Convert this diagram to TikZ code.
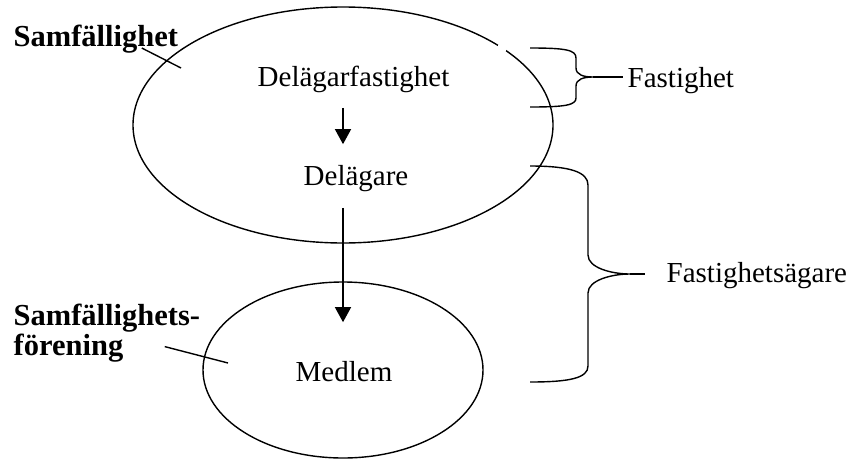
\documentclass[tikz,border=0pt]{standalone}
\usepackage{fontspec}
\setmainfont{Liberation Serif}
\usetikzlibrary{arrows.meta}

\tikzset{
  txt/.style={inner sep=0pt, font=\fontsize{29}{30}\selectfont},
  lbl/.style={inner sep=0pt, font=\fontsize{30.5}{30}\selectfont\bfseries},
  arr/.style={-{Triangle[width=16pt,length=15pt]}},
}

\begin{document}
\begin{tikzpicture}[x=1pt,y=-1pt,line width=1.4pt]
\useasboundingbox (0,0) rectangle (851,461);
% the two ellipses
\draw (343,125) ellipse [x radius=210, y radius=118];
\draw (343,370) ellipse [x radius=140, y radius=88];
\fill[white] (502,48) circle (5);
% texts
\node[txt, anchor=base west] (dfast) at (257,86) {Delägarfastighet};
\node[txt, anchor=base west] (dag) at (303,185) {Delägare};
\node[txt, anchor=base west] (medlem) at (295,381) {Medlem};
\node[txt, anchor=base west] (fast) at (627,87) {Fastighet};
\node[txt, anchor=base west] (fastag) at (666,282) {Fastighetsägare};
\node[lbl, anchor=base west] (samf) at (13,46) {Samfällighet};
\node[lbl, anchor=north west, align=left] (sfor) at (13,303) {Samfällighets-\\förening};
% arrows
\coordinate (axis) at (343,0);
\draw[arr, shorten <=15pt, shorten >=20pt] (dfast.south -| axis) -- (dag.north -| axis);
\draw[arr, shorten <=16pt, shorten >=38pt] (dag.south -| axis) -- (medlem.north -| axis);
% label lines
\coordinate (samfin) at (181,68);
\draw (samf.base east) ++(-37,2) -- (samfin);
\coordinate (sforin) at (228,363);
\draw (sfor.south east) ++(-36,-16) -- (sforin);
% brace Fastighet
\coordinate (b1top) at (530,48);
\coordinate (b1tip) at (593,77);
\coordinate (b1bot) at (530,107);
\draw (b1top) .. controls (566,48) and (576,50) .. (576,58) -- (576,68)
  .. controls (576,75) and (584,77) .. (b1tip)
  .. controls (584,77) and (576,79) .. (576,86) -- (576,98)
  .. controls (576,105) and (566,107) .. (b1bot);
\draw[line width=2.4pt, shorten >=4pt] (b1tip) -- (b1tip -| fast.west);
% brace Fastighetsägare
\coordinate (b2top) at (530,166);
\coordinate (b2tip) at (630,274);
\coordinate (b2bot) at (530,382);
\draw (b2top) .. controls (570,166) and (588,172) .. (588,185) -- (588,255)
  .. controls (588,268) and (612,274) .. (b2tip)
  .. controls (612,274) and (588,280) .. (588,293) -- (588,366)
  .. controls (588,378) and (570,382) .. (b2bot);
\draw[shorten >=21pt] (b2tip) -- (b2tip -| fastag.west);
\end{tikzpicture}
\end{document}
